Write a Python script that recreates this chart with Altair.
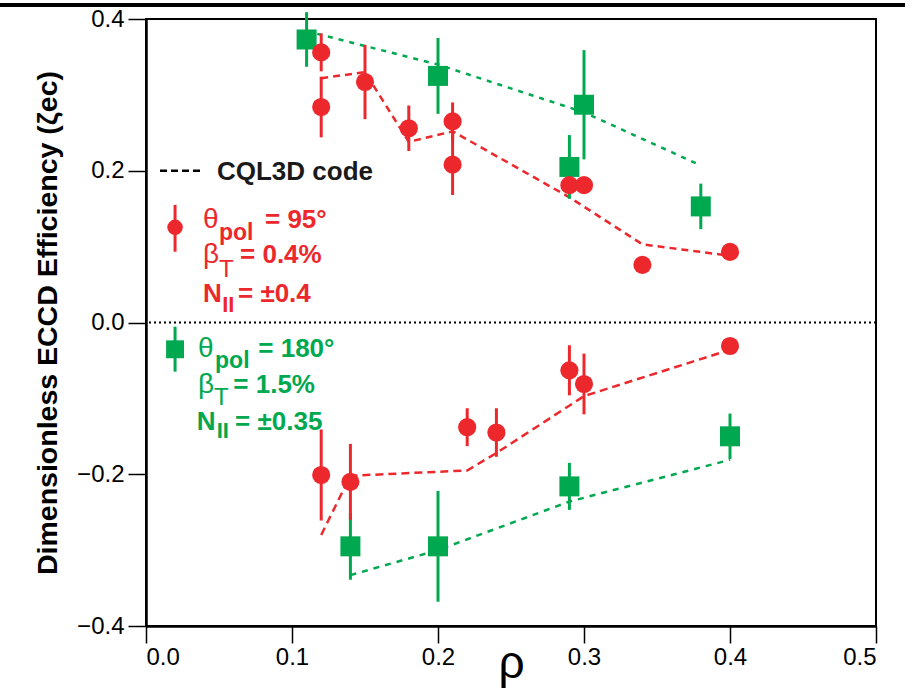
import altair as alt
import pandas as pd

RED = "#EC282D"
GREEN = "#00A84F"

red_rho = [0.12, 0.12, 0.15, 0.18, 0.21, 0.21, 0.29, 0.30, 0.34, 0.40,
           0.12, 0.14, 0.22, 0.24, 0.29, 0.30, 0.40]
red_val = [0.356, 0.284, 0.317, 0.256, 0.265, 0.208, 0.181, 0.181, 0.076, 0.093,
           -0.201, -0.210, -0.138, -0.145, -0.063, -0.081, -0.031]
red_err = [0.025, 0.040, 0.049, 0.030, 0.025, 0.040, 0.0, 0.0, 0.0, 0.0,
           0.060, 0.050, 0.025, 0.032, 0.033, 0.040, 0.0]

green_rho = [0.11, 0.20, 0.30, 0.29, 0.38, 0.14, 0.20, 0.29, 0.40]
green_val = [0.373, 0.325, 0.287, 0.205, 0.153, -0.295, -0.295, -0.216, -0.150]
green_err = [0.036, 0.050, 0.072, 0.042, 0.030, 0.044, 0.073, 0.031, 0.030]

# CQL3D code curves
cql_red_up_rho = [0.12, 0.15, 0.18, 0.21, 0.29, 0.34, 0.40]
cql_red_up_val = [0.322, 0.330, 0.238, 0.252, 0.165, 0.103, 0.088]
cql_green_up_rho = [0.11, 0.20, 0.30, 0.38]
cql_green_up_val = [0.384, 0.340, 0.277, 0.207]
cql_red_lo_rho = [0.12, 0.14, 0.22, 0.24, 0.30, 0.40]
cql_red_lo_val = [-0.280, -0.202, -0.195, -0.172, -0.097, -0.036]
cql_green_lo_rho = [0.14, 0.20, 0.29, 0.40]
cql_green_lo_val = [-0.333, -0.300, -0.236, -0.181]

x_ticks = [0.0, 0.1, 0.2, 0.3, 0.4, 0.5]
y_ticks = [-0.4, -0.2, 0.0, 0.2, 0.4]

# ---------------- tables ----------------
def pts(r, v, e):
    d = pd.DataFrame({"rho": r, "val": v, "err": e})
    d["lo"] = d["val"] - d["err"]
    d["hi"] = d["val"] + d["err"]
    return d

red_df = pts(red_rho, red_val, red_err)
green_df = pts(green_rho, green_val, green_err)

def curve(r, v):
    return pd.DataFrame({"rho": r, "val": v})

xs = alt.Scale(domain=[0, 0.5], nice=False, zero=False)
ys = alt.Scale(domain=[-0.4, 0.4], nice=False, zero=False)

FONT = "Liberation Sans"

XAX = alt.Axis(
    values=x_ticks, format=".1f", title="ρ", grid=False,
    labelFont=FONT, labelFontSize=24, labelColor="black", labelPadding=2,
    tickSize=17, tickWidth=1.5, tickColor="black",
    domainColor="black", domainWidth=2.5,
    titleFont=FONT, titleFontSize=46,
    titleFontWeight="normal", titleColor="black", titlePadding=-28)
YAX = alt.Axis(
    values=y_ticks, format=".1f", title="Dimensionless ECCD Efficiency (ζec)",
    grid=False,
    labelFont=FONT, labelFontSize=24, labelColor="black", labelPadding=4,
    tickSize=18, tickWidth=1.5, tickColor="black",
    domainColor="black", domainWidth=2.5,
    titleFont=FONT, titleFontSize=28.5, titleFontWeight="bold",
    titleColor="black", titlePadding=14)

Xn = alt.X("rho:Q", scale=xs, axis=XAX)
Yn = alt.Y("val:Q", scale=ys, axis=YAX)
Ylo = alt.Y("lo:Q", scale=ys, axis=YAX)

layers = []

# zero line
zero = alt.Chart(pd.DataFrame({"val": [0.0]})).mark_rule(
    color="black", strokeWidth=2, strokeDash=[2, 3]).encode(y=Yn)
layers.append(zero)

# model curves
for (r, v, col, dash) in [
    (cql_red_up_rho, cql_red_up_val, RED, [7, 5]),
    (cql_green_up_rho, cql_green_up_val, GREEN, [5, 6]),
    (cql_red_lo_rho, cql_red_lo_val, RED, [8, 5]),
    (cql_green_lo_rho, cql_green_lo_val, GREEN, [6, 6]),
]:
    layers.append(alt.Chart(curve(r, v)).mark_line(
        color=col, strokeWidth=2.5, strokeDash=dash).encode(x=Xn, y=Yn))

# error bars
layers.append(alt.Chart(green_df).mark_rule(color=GREEN, strokeWidth=3).encode(
    x=Xn, y=Ylo, y2="hi:Q"))
layers.append(alt.Chart(red_df).mark_rule(color=RED, strokeWidth=3).encode(
    x=Xn, y=Ylo, y2="hi:Q"))

# markers
layers.append(alt.Chart(green_df).mark_square(
    color=GREEN, size=400, opacity=1).encode(x=Xn, y=Yn))
layers.append(alt.Chart(red_df).mark_circle(
    color=RED, size=330, opacity=1).encode(x=Xn, y=Yn))

# ---------------- legend (annotation) ----------------
leg_line = pd.DataFrame({"rho": [0.0096, 0.039], "val": [0.2, 0.2]})
layers.append(alt.Chart(leg_line).mark_line(
    color="black", strokeWidth=2.5, strokeDash=[7, 4]).encode(x=Xn, y=Yn))
layers.append(alt.Chart(pd.DataFrame({"rho": [0.0486], "val": [0.2], "t": ["CQL3D code"]}))
              .mark_text(align="left", baseline="middle", font=FONT,
                         fontWeight="bold", fontSize=26, color="#1a1a1a", dy=1)
              .encode(x=Xn, y=Yn, text="t:N"))

leg_bar = pd.DataFrame({"rho": [0.0199, 0.0199], "lo": [0.0933, -0.0648],
                        "hi": [0.155, -0.0055], "c": [RED, GREEN]})
layers.append(alt.Chart(leg_bar).mark_rule(strokeWidth=3).encode(
    x=Xn, y=Ylo, y2="hi:Q", color=alt.Color("c:N", scale=None)))
layers.append(alt.Chart(pd.DataFrame({"rho": [0.0199], "val": [0.1254]}))
              .mark_circle(color=RED, size=240, opacity=1).encode(x=Xn, y=Yn))
layers.append(alt.Chart(pd.DataFrame({"rho": [0.0199], "val": [-0.0353]}))
              .mark_square(color=GREEN, size=320, opacity=1).encode(x=Xn, y=Yn))

# text pieces: (rho, val, text, colour, size, weight)
leg_text = [
    (0.0390, 0.1245, "θ", RED, 28, "normal"),
    (0.0500, 0.1087, "pol", RED, 23, "bold"),
    (0.0815, 0.1245, "= 95°", RED, 26, "bold"),
    (0.0390, 0.0784, "β", RED, 28, "normal"),
    (0.0500, 0.0603, "T", RED, 24, "normal"),
    (0.0644, 0.0784, "= 0.4%", RED, 26, "bold"),
    (0.0390, 0.0274, "N", RED, 26, "bold"),
    (0.0522, 0.0142, "II", RED, 22, "bold"),
    (0.0630, 0.0274, "= ±0.4", RED, 26, "bold"),
    (0.0356, -0.0450, "θ", GREEN, 28, "normal"),
    (0.0473, -0.0604, "pol", GREEN, 23, "bold"),
    (0.0769, -0.0450, "= 180°", GREEN, 26, "bold"),
    (0.0356, -0.0933, "β", GREEN, 28, "normal"),
    (0.0466, -0.1087, "T", GREEN, 24, "normal"),
    (0.0598, -0.0933, "= 1.5%", GREEN, 26, "bold"),
    (0.0347, -0.1416, "N", GREEN, 26, "bold"),
    (0.0484, -0.1526, "II", GREEN, 22, "bold"),
    (0.0610, -0.1416, "= ±0.35", GREEN, 26, "bold"),
]
lt = pd.DataFrame(leg_text, columns=["rho", "val", "t", "c", "s", "w"])
for w in ["normal", "bold"]:
    layers.append(alt.Chart(lt[lt.w == w]).mark_text(
        align="left", baseline="alphabetic", font=FONT, fontWeight=w)
        .encode(x=Xn, y=Yn, text="t:N",
                color=alt.Color("c:N", scale=None),
                size=alt.Size("s:Q", scale=None)))

# page rule at top (decoration)
layers.append(alt.Chart(pd.DataFrame({"a": [0]})).mark_rule(
    color="black", strokeWidth=4).encode(
    x=alt.value(-146), x2=alt.value(759), y=alt.value(-14)))

chart = alt.layer(*layers).properties(
    width=730, height=607,
    padding={"left": 146, "top": 19, "right": 37, "bottom": 62},
    autosize="none",
    background="white",
).configure_view(stroke="black", strokeWidth=2)

chart.save("out.html", embed_options={"renderer": "svg", "actions": False})
